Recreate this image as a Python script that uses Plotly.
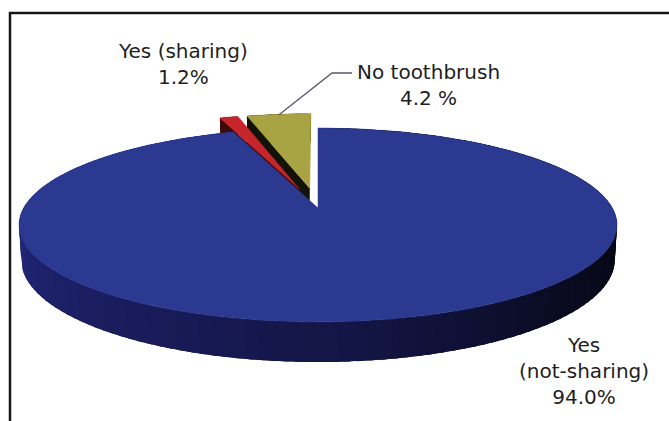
import numpy as np
import plotly.graph_objects as go

# ---- data ----
categories = ["Yes (not-sharing)", "Yes (sharing)", "No toothbrush"]
values = [94.0, 1.2, 4.2]
label_texts = ["Yes<br>(not-sharing)<br>94.0%", "Yes (sharing)<br>1.2%", "No toothbrush<br>4.2 %"]

# ---- style ----
top_colors = ["#2b3990", "#c6262b", "#a9a443"]
explode = [0.0, 0.22, 0.22]
W, H = 669, 421

# 3D perspective projection parameters (pixel space)
CX, VC = 318.0, 208.0
S_, C_ = 0.3193, 0.9477
L_, F_ = 5.408, 1592.0
HGT = 0.1224


def proj(x, y, z):
    depth = L_ + y * C_ - z * S_
    u = CX + F_ * x / depth
    v = VC - F_ * (y * S_ + z * C_) / depth
    return u, v


def lerp_col(theta):
    anchors = [(60, (4, 4, 10)), (100, (6, 6, 16)), (135, (10, 11, 34)),
               (180, (20, 22, 72)), (230, (28, 32, 102)), (270, (38, 42, 128)),
               (360, (38, 42, 128))]
    for (a0, c0), (a1, c1) in zip(anchors[:-1], anchors[1:]):
        if a0 <= theta <= a1:
            t = (theta - a0) / (a1 - a0)
            c = [round(c0[i] + t * (c1[i] - c0[i])) for i in range(3)]
            return "rgb(%d,%d,%d)" % tuple(c)
    return "rgb(4,4,10)"


total = sum(values)
angles = np.cumsum([0] + [v / total * 360 for v in values])

fig = go.Figure()


def add_poly(xs, ys, color, lw=0.0):
    fig.add_trace(go.Scatter(x=list(xs) + [xs[0]], y=list(ys) + [ys[0]], mode="lines",
                             fill="toself", fillcolor=color,
                             line=dict(color=color, width=lw),
                             hoverinfo="skip", showlegend=False))


wall_fixed = [None, "rgb(62,9,10)", "rgb(18,18,8)"]


def draw_slice(i):
    a0, a1 = np.radians(angles[i]), np.radians(angles[i + 1])
    mid = (a0 + a1) / 2
    dx, dy = explode[i] * np.sin(mid), explode[i] * np.cos(mid)
    # outer wall segments, far first, overlapping to hide seams
    nseg = max(2, int(np.degrees(a1 - a0) / 2))
    edges = np.linspace(a0, a1, nseg + 1)
    pad = np.radians(1.5)
    segs = []
    for s0, s1 in zip(edges[:-1], edges[1:]):
        tt = np.linspace(max(a0, s0 - pad), min(a1, s1 + pad), 6)
        segs.append((np.cos((s0 + s1) / 2), (s0 + s1) / 2, tt))
    segs.sort(key=lambda q: -q[0])
    for _, m, tt in segs:
        xs = dx + np.sin(tt)
        ys = dy + np.cos(tt)
        u1, v1 = proj(xs, ys, 0.0)
        u2, v2 = proj(xs[::-1], ys[::-1], -HGT)
        col = wall_fixed[i] if wall_fixed[i] else lerp_col(np.degrees(m))
        add_poly(np.concatenate([u1, u2]), np.concatenate([v1, v2]), col)
    # radial wall at start angle (visible for exploded slices)
    if explode[i] > 0:
        px, py = dx + np.sin(a0), dy + np.cos(a0)
        pts = [proj(dx, dy, 0.0), proj(px, py, 0.0), proj(px, py, -HGT), proj(dx, dy, -HGT)]
        add_poly([p[0] for p in pts], [p[1] for p in pts], wall_fixed[i])
    # top face
    tt = np.linspace(a0, a1, max(3, int(np.degrees(a1 - a0)) + 2))
    xs = np.concatenate([[dx], dx + np.sin(tt)])
    ys = np.concatenate([[dy], dy + np.cos(tt)])
    u, v = proj(xs, ys, 0.0)
    add_poly(u, v, top_colors[i], 0.5)


# back slices first
draw_slice(2)
draw_slice(1)
draw_slice(0)

# leader line for "No toothbrush"
a0, a1 = np.radians(angles[2]), np.radians(angles[3])
mid = (a0 + a1) / 2
ex, ey = explode[2] * np.sin(mid), explode[2] * np.cos(mid)
lu, lv = proj(ex + 0.99 * np.sin(mid), ey + 0.99 * np.cos(mid), 0.0)
fig.add_trace(go.Scatter(x=[lu, 332, 352], y=[lv, 73, 73], mode="lines",
                         line=dict(color="#5a5a6a", width=1.3),
                         hoverinfo="skip", showlegend=False))

font = dict(family="DejaVu Sans", size=20, color="#1e1e1e")
fig.add_annotation(x=584, y=371, text=label_texts[0], showarrow=False,
                   xanchor="center", yanchor="middle", align="center", font=font)
fig.add_annotation(x=183, y=64, text=label_texts[1], showarrow=False,
                   xanchor="center", yanchor="middle", align="center", font=font)
fig.add_annotation(x=355, y=85, text=label_texts[2], showarrow=False,
                   xanchor="left", yanchor="middle", align="center", font=font)

# frame
fig.add_shape(type="rect", x0=10, y0=13, x1=720, y1=470, xref="x", yref="y",
              line=dict(color="#151515", width=2.5), fillcolor="rgba(0,0,0,0)")

fig.update_layout(width=W, height=H, margin=dict(l=0, r=0, t=0, b=0),
                  paper_bgcolor="white", plot_bgcolor="white", showlegend=False,
                  xaxis=dict(range=[0, W], visible=False, fixedrange=True),
                  yaxis=dict(range=[H, 0], visible=False, fixedrange=True))

fig.write_html("out.html")
